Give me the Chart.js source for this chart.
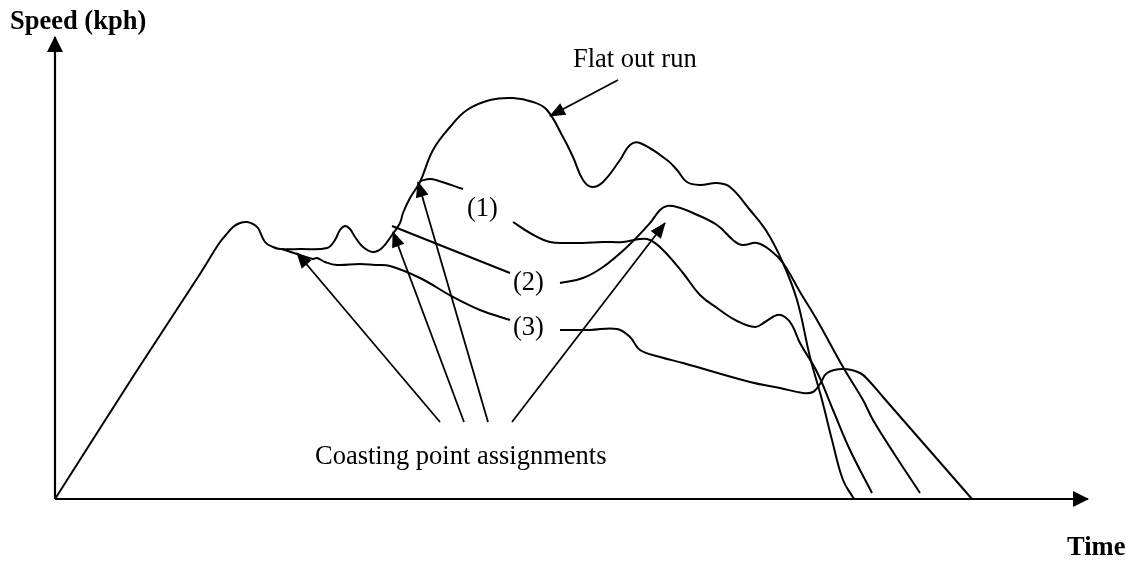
<!DOCTYPE html>
<html>
<head>
<meta charset="utf-8">
<script src="https://cdn.jsdelivr.net/npm/chart.js@4/dist/chart.umd.min.js"></script>
<style>
  html, body { margin: 0; padding: 0; background: #ffffff; }
  #wrap { width: 1131px; height: 561px; position: relative; }
</style>
</head>
<body>
<div id="wrap"><canvas id="chart"></canvas></div>
<script>
// Speed against time: the flat out run and three coasting runs (1)-(3).
// Points are [time, speed] in the diagram's own units (origin at 0,0).
const flatOutRun = [
  [0,0],[81,127],[145,225],[163,254],[170,263],[178,272],[185,276],[192,277],[198,275],
  [203,271],[210,257],[218,252],[225,250],[245,250],[272,251],[280,259],[285,269],[290,273],
  [295,270],[300,262],[308,252],[318,247],[327,251],[337,264],[345,276],[348,286],[355,301],
  [365,317],[378,349],[395,372],[412,389],[435,399],[458,401],[478,397],[492,389],[508,362],
  [518,342],[528,319],[537,312],[548,317],[565,339],[575,354],[585,356],[612,339],[622,329],
  [632,317],[645,314],[662,316],[675,312],[695,289],[712,267],[728,236],[742,199],[755,142],
  [767,99],[777,59],[788,19],[799,0]
];
const coast1Lead = [[365,318],[375,320],[381,319],[408,310]];
const coast1 = [
  [458,277],[475,266],[495,257],[515,256],[528,256],[548,257],[568,257],[585,260],[595,259],
  [608,249],[628,226],[645,204],[662,191],[682,178],[700,172],[710,177],[722,184],[730,182],
  [737,174],[745,156],[762,127],[778,89],[795,49],[817,6]
];
const coast2Lead = [[337,273],[455,226]];
const coast2 = [
  [505,216],[528,221],[548,232],[572,252],[595,276],[605,289],[612,293],[622,292],[638,286],
  [662,274],[678,259],[687,254],[702,256],[715,249],[728,236],[745,207],[762,179],[788,132],
  [808,99],[818,79],[840,44],[865,6]
];
const coast3Lead = [
  [227,250],[245,244],[258,240],[262,241],[270,237],[282,234],[305,235],[320,234],[335,233],
  [365,221],[398,202],[425,189],[455,179]
];
const coast3 = [
  [505,169],[535,169],[562,170],[575,162],[585,149],[605,142],[628,136],[695,117],[725,111],
  [748,106],[758,107],[765,115],[772,126],[788,130],[805,126],[815,117],[828,102],[917,0]
];

// Arrows: [fromTime, fromSpeed, toTime, toSpeed]; the head sits at the "to" end.
const axisArrows = [[0,0,0,462],[0,0,1033,0]];
const pointerArrows = [
  [385,77,242,246],
  [409,77,338,267],
  [433,77,363,317],
  [457,77,610,276],
  [563,419,495,383]
];

// Text labels with their anchor (left end of the baseline) and weight
const labelTexts = ['Speed (kph)','Time','Flat out run','Coasting point assignments','(1)','(2)','(3)'];
const labelPos = [[-45,470],[1012,-56],[518,432],[260,35],[412,283],[458,209],[458,164]];
const labelBold = [true,true,false,false,false,false,false];

const toXY = arr => arr.map(p => ({x: p[0], y: p[1]}));

function curve(data) {
  return { data: toXY(data), showLine: true, borderColor: '#000', borderWidth: 2,
           pointRadius: 0, tension: 0.4, fill: false };
}
function straight(data, w) {
  return { data: toXY(data), showLine: true, borderColor: '#000', borderWidth: w || 1.8,
           pointRadius: 0, tension: 0, fill: false };
}

const datasets = [
  curve(flatOutRun),
  curve(coast1Lead), curve(coast1),
  straight(coast2Lead, 2), curve(coast2),
  curve(coast3Lead), curve(coast3)
];
axisArrows.forEach(a => datasets.push(straight([[a[0],a[1]],[a[2],a[3]]], 2.2)));
pointerArrows.forEach(a => datasets.push(straight([[a[0],a[1]],[a[2],a[3]]], 1.8)));

function drawHead(ctx, x0, y0, x1, y1, len, half) {
  const ang = Math.atan2(y1 - y0, x1 - x0);
  const c = Math.cos(ang), s = Math.sin(ang);
  const bx = x1 - c * len, by = y1 - s * len;
  ctx.beginPath();
  ctx.moveTo(x1 + c * 1, y1 + s * 1);
  ctx.lineTo(bx - s * half, by + c * half);
  ctx.lineTo(bx + s * half, by - c * half);
  ctx.closePath();
  ctx.fill();
}

const decorations = {
  id: 'decorations',
  afterDatasetsDraw(chart) {
    const ctx = chart.ctx, xs = chart.scales.x, ys = chart.scales.y;
    ctx.save();
    ctx.fillStyle = '#000';
    axisArrows.forEach(a => drawHead(ctx,
      xs.getPixelForValue(a[0]), ys.getPixelForValue(a[1]),
      xs.getPixelForValue(a[2]), ys.getPixelForValue(a[3]), 15, 8));
    pointerArrows.forEach(a => drawHead(ctx,
      xs.getPixelForValue(a[0]), ys.getPixelForValue(a[1]),
      xs.getPixelForValue(a[2]), ys.getPixelForValue(a[3]), 15, 6.5));
    ctx.textBaseline = 'alphabetic';
    ctx.textAlign = 'left';
    labelTexts.forEach((t, i) => {
      ctx.font = (labelBold[i] ? 'bold ' : '') + '26.5px "Liberation Serif", "Times New Roman", serif';
      ctx.fillText(t, xs.getPixelForValue(labelPos[i][0]), ys.getPixelForValue(labelPos[i][1]));
    });
    ctx.restore();
  }
};

new Chart(document.getElementById('chart'), {
  type: 'scatter',
  data: { datasets },
  options: {
    responsive: true,
    maintainAspectRatio: false,
    animation: false,
    layout: { padding: 0 },
    plugins: { legend: { display: false }, tooltip: { enabled: false } },
    scales: {
      x: { type: 'linear', min: -55, max: 1076, display: false },
      y: { type: 'linear', min: -62, max: 499, display: false }
    },
    elements: { line: { borderCapStyle: 'butt', borderJoinStyle: 'round' } }
  },
  plugins: [decorations]
});
</script>
</body>
</html>
